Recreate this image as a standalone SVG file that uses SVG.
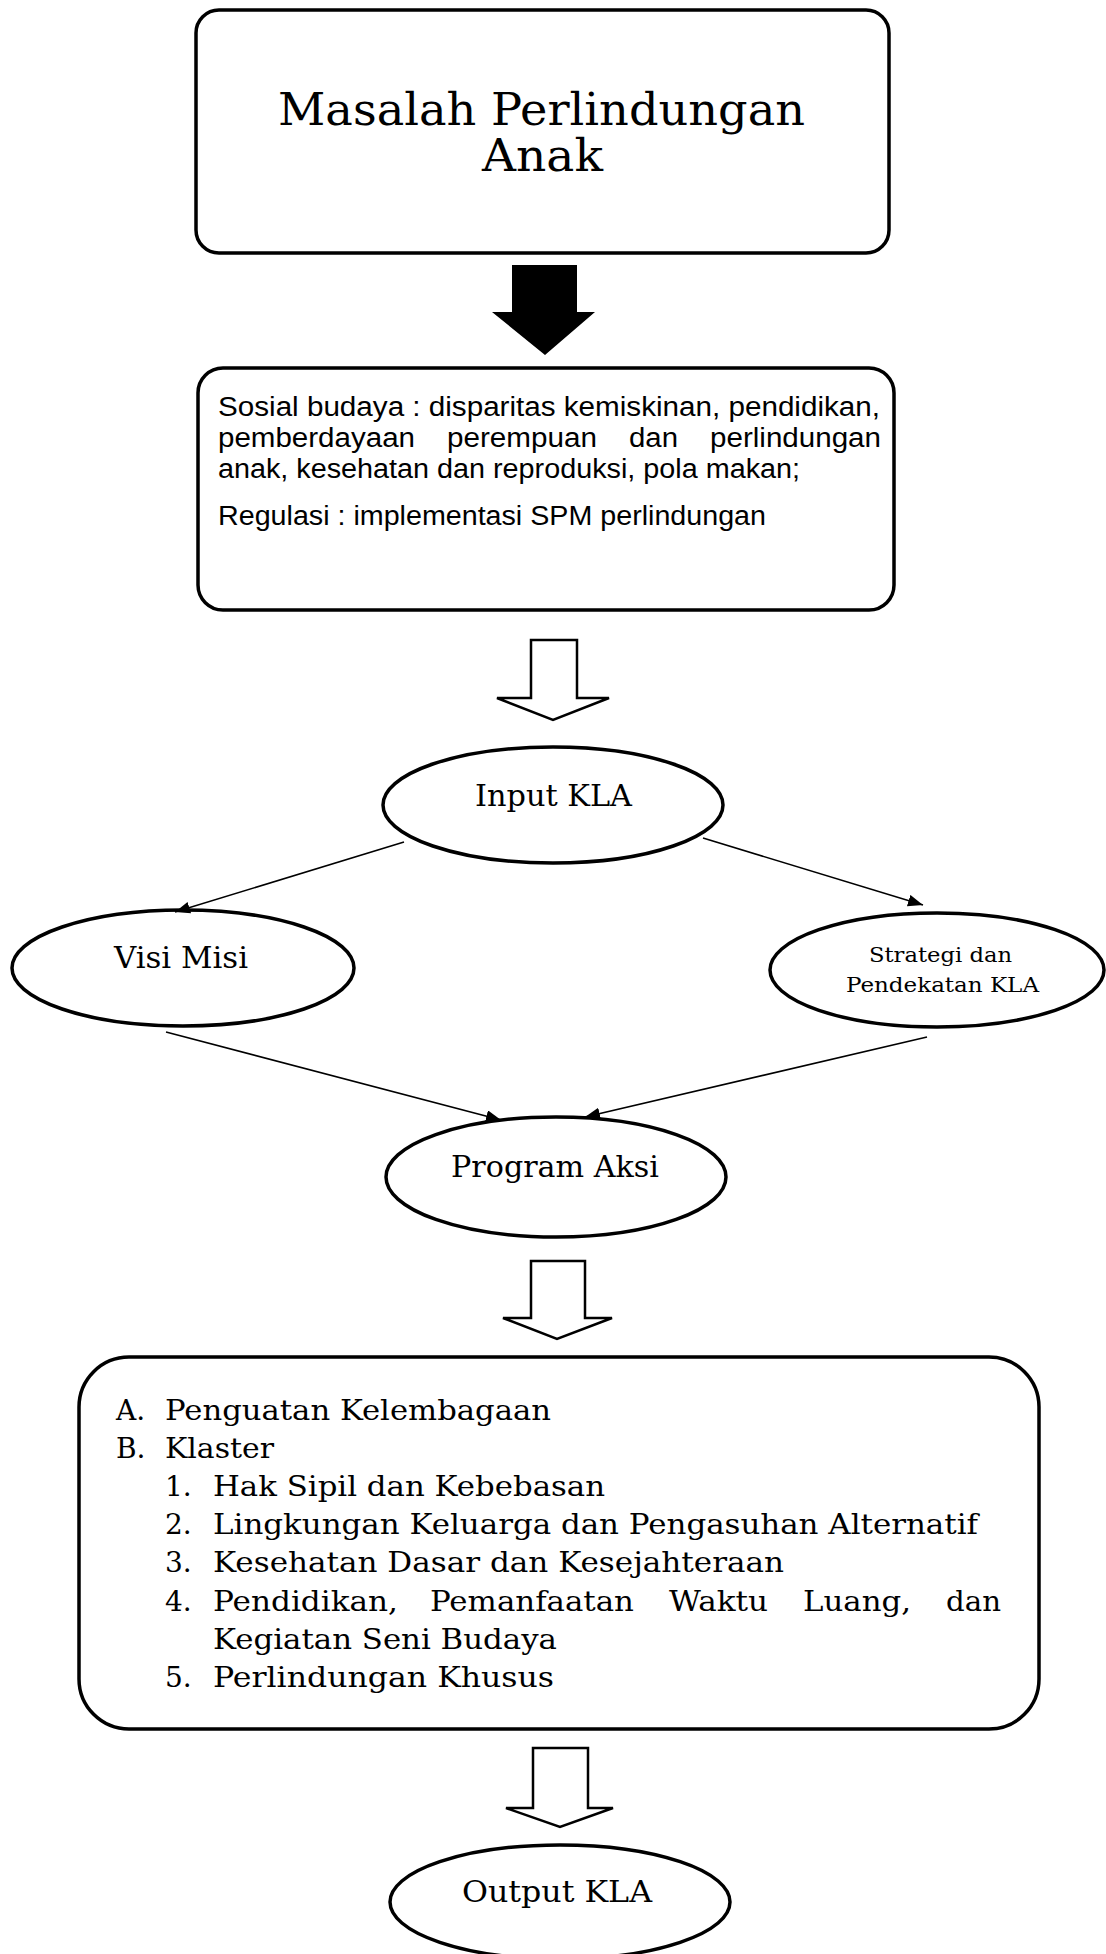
<svg xmlns="http://www.w3.org/2000/svg" width="1106" height="1954" viewBox="0 0 1106 1954">
<style>
.box{fill:#fff;stroke:#000;stroke-width:3.5}
.ell{fill:#fff;stroke:#000;stroke-width:3.5}
.hollow{fill:#fff;stroke:#000;stroke-width:2.5;stroke-linejoin:miter}
.solid{fill:#000;stroke:none}
.conn{fill:none;stroke:#000;stroke-width:1.6}
.serif{font-family:"DejaVu Serif","Liberation Serif",serif;fill:#000}
.sans{font-family:"Liberation Sans","Open Sans",sans-serif;fill:#000;font-size:27px}
.title{font-size:44px}
.ellt{font-size:29px}
.small{font-size:20px}
.item{font-size:28px}
</style>
<defs>
<marker id="ah" markerUnits="userSpaceOnUse" markerWidth="16" markerHeight="14" refX="15" refY="6" orient="auto">
<path d="M0,0 L15,6 L0,12 z" fill="#000"/>
</marker>
</defs>
<rect width="1106" height="1954" fill="#fff"/>

<g id="node-masalah">
<rect class="box" x="196" y="10" width="693" height="243" rx="23" ry="23"/>
<text class="serif title" x="278" y="125" textLength="527" lengthAdjust="spacingAndGlyphs">Masalah Perlindungan</text>
<text class="serif title" x="482" y="171" textLength="121" lengthAdjust="spacingAndGlyphs">Anak</text>
</g>

<g id="arrow-solid">
<polygon class="solid" points="512,265 577,265 577,312 595,312 545,355 492,312 512,312"/>
</g>

<g id="node-sosial">
<rect class="box" x="198" y="368" width="696" height="242" rx="25" ry="25"/>
<text class="sans" x="218" y="416" textLength="662" lengthAdjust="spacingAndGlyphs">Sosial budaya : disparitas kemiskinan, pendidikan,</text>
<text class="sans" y="447"><tspan x="218" textLength="197" lengthAdjust="spacingAndGlyphs">pemberdayaan</tspan><tspan x="447" textLength="150" lengthAdjust="spacingAndGlyphs">perempuan</tspan><tspan x="629" textLength="49" lengthAdjust="spacingAndGlyphs">dan</tspan><tspan x="710" textLength="171" lengthAdjust="spacingAndGlyphs">perlindungan</tspan></text>
<text class="sans" x="218" y="478" textLength="582" lengthAdjust="spacingAndGlyphs">anak, kesehatan dan reproduksi, pola makan;</text>
<text class="sans" x="218" y="525" textLength="548" lengthAdjust="spacingAndGlyphs">Regulasi : implementasi SPM perlindungan</text>
</g>

<g id="arrow-hollow-1">
<polygon class="hollow" points="531,640 577,640 577,698 609,698 553,720 497,698 531,698"/>
</g>

<g id="node-input">
<ellipse class="ell" cx="553" cy="805" rx="170" ry="58"/>
<text class="serif ellt" x="475" y="806" textLength="157" lengthAdjust="spacingAndGlyphs">Input KLA</text>
</g>

<g id="node-visi">
<ellipse class="ell" cx="183" cy="968" rx="171" ry="58"/>
<text class="serif ellt" x="114" y="968" textLength="134" lengthAdjust="spacingAndGlyphs">Visi Misi</text>
</g>

<g id="node-strategi">
<ellipse class="ell" cx="937" cy="970" rx="167" ry="57"/>
<text class="serif small" x="869" y="962" textLength="143" lengthAdjust="spacingAndGlyphs">Strategi dan</text>
<text class="serif small" x="846" y="992" textLength="193" lengthAdjust="spacingAndGlyphs">Pendekatan KLA</text>
</g>

<g id="node-program">
<ellipse class="ell" cx="556" cy="1177" rx="170" ry="60"/>
<text class="serif ellt" x="451" y="1177" textLength="208" lengthAdjust="spacingAndGlyphs">Program Aksi</text>
</g>

<g id="connectors">
<line class="conn" x1="404" y1="842" x2="175" y2="912" marker-end="url(#ah)"/>
<line class="conn" x1="703" y1="838" x2="923" y2="905" marker-end="url(#ah)"/>
<line class="conn" x1="166" y1="1032" x2="501" y2="1120" marker-end="url(#ah)"/>
<line class="conn" x1="927" y1="1037" x2="585" y2="1117" marker-end="url(#ah)"/>
</g>

<g id="arrow-hollow-2">
<polygon class="hollow" points="531,1261 585,1261 585,1318 612,1318 557,1339 503,1318 531,1318"/>
</g>

<g id="node-klaster">
<rect class="box" x="79" y="1357" width="960" height="372" rx="50" ry="50"/>
<text class="serif item" x="116" y="1420">A.</text>
<text class="serif item" x="165" y="1420" textLength="386" lengthAdjust="spacingAndGlyphs">Penguatan Kelembagaan</text>
<text class="serif item" x="116" y="1458">B.</text>
<text class="serif item" x="165" y="1458" textLength="109" lengthAdjust="spacingAndGlyphs">Klaster</text>
<text class="serif item" x="165" y="1496">1.</text>
<text class="serif item" x="213" y="1496" textLength="392" lengthAdjust="spacingAndGlyphs">Hak Sipil dan Kebebasan</text>
<text class="serif item" x="165" y="1534">2.</text>
<text class="serif item" x="213" y="1534" textLength="765" lengthAdjust="spacingAndGlyphs">Lingkungan Keluarga dan Pengasuhan Alternatif</text>
<text class="serif item" x="165" y="1572">3.</text>
<text class="serif item" x="213" y="1572" textLength="571" lengthAdjust="spacingAndGlyphs">Kesehatan Dasar dan Kesejahteraan</text>
<text class="serif item" x="165" y="1611">4.</text>
<text class="serif item" y="1611"><tspan x="213" textLength="185" lengthAdjust="spacingAndGlyphs">Pendidikan,</tspan><tspan x="430" textLength="204" lengthAdjust="spacingAndGlyphs">Pemanfaatan</tspan><tspan x="669" textLength="99" lengthAdjust="spacingAndGlyphs">Waktu</tspan><tspan x="803" textLength="108" lengthAdjust="spacingAndGlyphs">Luang,</tspan><tspan x="946" textLength="55" lengthAdjust="spacingAndGlyphs">dan</tspan></text>
<text class="serif item" x="213" y="1649" textLength="344" lengthAdjust="spacingAndGlyphs">Kegiatan Seni Budaya</text>
<text class="serif item" x="165" y="1687">5.</text>
<text class="serif item" x="213" y="1687" textLength="341" lengthAdjust="spacingAndGlyphs">Perlindungan Khusus</text>
</g>

<g id="arrow-hollow-3">
<polygon class="hollow" points="533,1748 588,1748 588,1808 613,1808 560,1827 506,1808 533,1808"/>
</g>

<g id="node-output">
<ellipse class="ell" cx="560" cy="1902" rx="170" ry="57"/>
<text class="serif ellt" x="462" y="1902" textLength="190" lengthAdjust="spacingAndGlyphs">Output KLA</text>
</g>
</svg>
